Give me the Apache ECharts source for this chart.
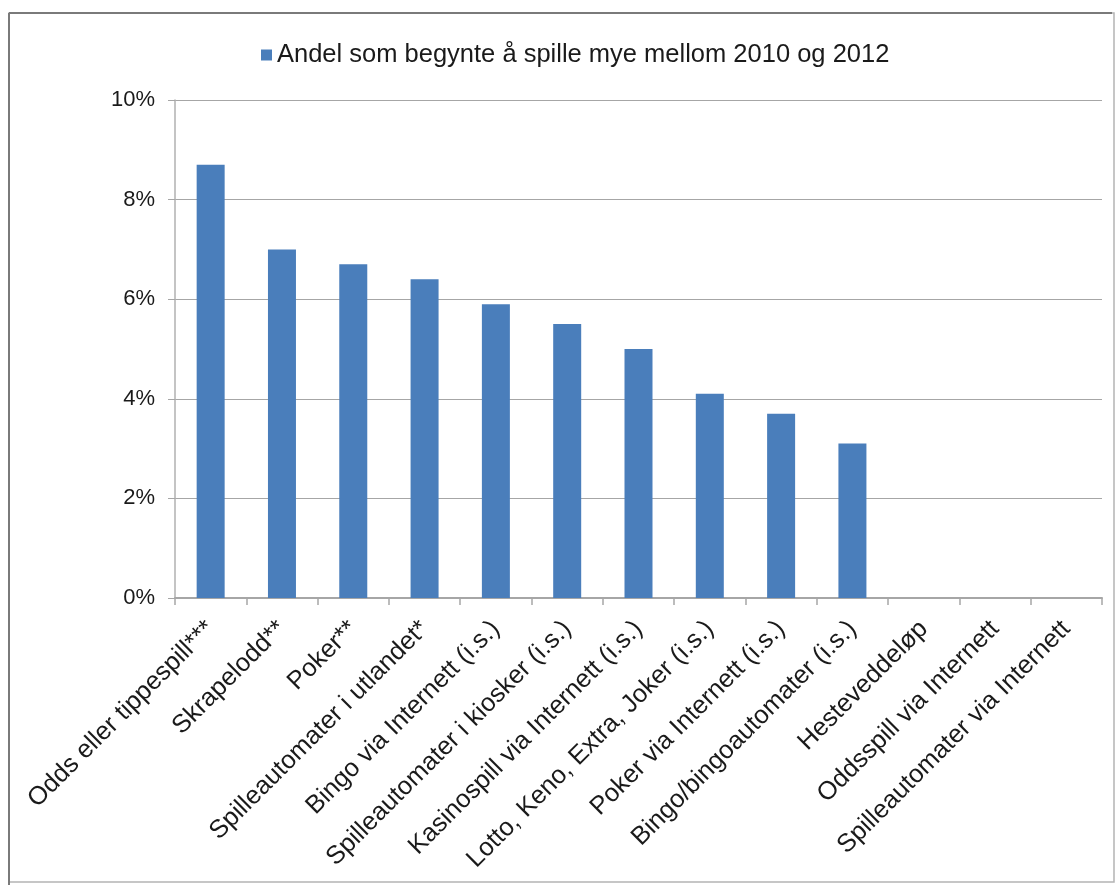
<!DOCTYPE html>
<html>
<head>
<meta charset="utf-8">
<script src="https://cdn.jsdelivr.net/npm/echarts@6/dist/echarts.min.js"></script>
<style>
html,body{margin:0;padding:0;background:#fff;}
#chart{width:1119px;height:885px;}
</style>
</head>
<body>
<div id="chart"></div>
<script>
var categories = [
  "Odds eller tippespill***",
  "Skrapelodd**",
  "Poker**",
  "Spilleautomater i utlandet*",
  "Bingo via Internett (i.s.)",
  "Spilleautomater i kiosker (i.s.)",
  "Kasinospill via Internett (i.s.)",
  "Lotto, Keno, Extra, Joker (i.s.)",
  "Poker via Internett (i.s.)",
  "Bingo/bingoautomater (i.s.)",
  "Hesteveddeløp",
  "Oddsspill via Internett",
  "Spilleautomater via Internett"
];
var seriesName = "Andel som begynte å spille mye mellom 2010 og 2012";
var values = [8.7, 7.0, 6.7, 6.4, 5.9, 5.5, 5.0, 4.1, 3.7, 3.1, 0, 0, 0];
var yTicks = [0, 2, 4, 6, 8, 10];

var chart = echarts.init(document.getElementById('chart'));
var font = "'Liberation Sans', Arial, sans-serif";
chart.setOption({
  animation: false,
  backgroundColor: '#ffffff',
  textStyle: { fontFamily: font },
  graphic: [
    { type: 'rect', shape: { x: 9, y: 13, width: 1105, height: 869 },
      style: { fill: 'none', stroke: '#b4b4b4', lineWidth: 1.5 } },
    { type: 'line', shape: { x1: 9, y1: 13, x2: 1112, y2: 13 },
      style: { stroke: '#7a7a7a', lineWidth: 2 } },
    { type: 'line', shape: { x1: 9, y1: 13, x2: 9, y2: 885 },
      style: { stroke: '#7a7a7a', lineWidth: 2 } }
  ],
  legend: {
    data: [seriesName],
    left: 256,
    top: 37,
    icon: 'rect',
    itemWidth: 11,
    itemHeight: 11,
    itemGap: 8,
    textStyle: { fontSize: 25.5, color: '#1a1a1a', fontFamily: font }
  },
  grid: { left: 175, right: 17, top: 100, bottom: 287, containLabel: false },
  xAxis: {
    type: 'category',
    data: categories,
    boundaryGap: true,
    axisLine: { show: true, lineStyle: { color: '#a6a6a6', width: 2 } },
    axisTick: { show: true, length: 7, alignWithLabel: false, lineStyle: { color: '#a6a6a6', width: 1.5 } },
    axisLabel: { interval: 0, rotate: 45, margin: 27, fontSize: 25.5, color: '#1a1a1a', fontFamily: font }
  },
  yAxis: {
    type: 'value',
    min: yTicks[0],
    max: yTicks[yTicks.length - 1],
    interval: 2,
    axisLine: { show: true, lineStyle: { color: '#b0b0b0', width: 1.5 } },
    axisTick: { show: true, length: 7, lineStyle: { color: '#a6a6a6' } },
    axisLabel: { formatter: function (v) { return v + '%'; }, margin: 20, fontSize: 22, color: '#1a1a1a', fontFamily: font },
    splitLine: { show: true, lineStyle: { color: '#a6a6a6', width: 1.2 } }
  },
  series: [{
    name: seriesName,
    type: 'bar',
    data: values,
    barWidth: 28,
    itemStyle: { color: '#4a7ebb' }
  }]
});
</script>
</body>
</html>
